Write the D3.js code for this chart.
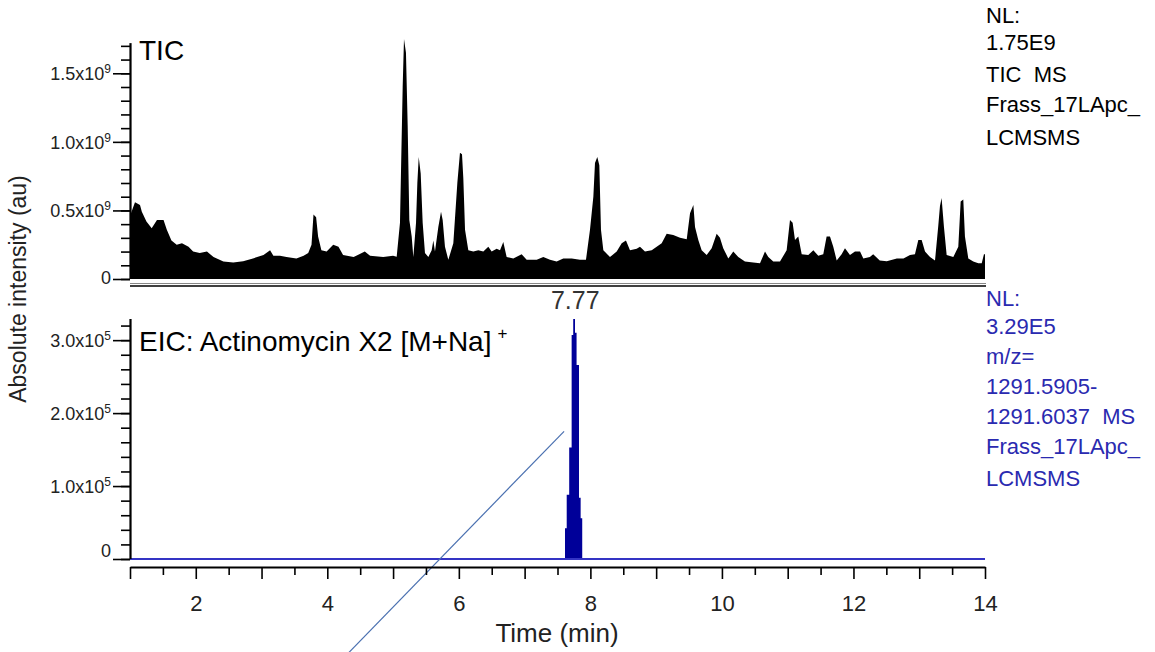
<!DOCTYPE html>
<html><head><meta charset="utf-8">
<script src="https://cdn.jsdelivr.net/npm/d3@7"></script>
<style>
body{margin:0;background:#fff}
svg text{font-family:"Liberation Sans",Arial,sans-serif;white-space:pre}
</style>
</head><body>
<svg id="chart" width="1155" height="652"></svg>
<script>
// ---------------- data ----------------
// TIC trace: retention time (min) and intensity (x1e9)
const ticTimes = [1.00,1.015,1.076,1.152,1.18,1.25,1.33,1.41,1.51,1.56,1.63,1.71,1.79,1.89,1.96,2.06,2.17,2.27,2.42,2.57,2.72,2.87,3.03,3.13,3.18,3.28,3.38,3.53,3.64,3.71,3.76,3.79,3.83,3.86,3.91,3.99,4.09,4.17,4.24,4.40,4.57,4.65,4.85,5.00,5.055,5.105,5.146,5.166,5.196,5.222,5.247,5.283,5.308,5.349,5.369,5.39,5.42,5.45,5.485,5.536,5.587,5.612,5.637,5.688,5.729,5.754,5.789,5.84,5.916,5.977,6.017,6.048,6.068,6.094,6.144,6.22,6.296,6.372,6.448,6.499,6.575,6.626,6.676,6.727,6.828,6.955,7.031,7.184,7.284,7.386,7.487,7.588,7.716,7.842,7.933,7.994,8.045,8.07,8.105,8.136,8.161,8.197,8.298,8.40,8.476,8.541,8.602,8.704,8.754,8.83,8.932,9.008,9.084,9.16,9.26,9.363,9.465,9.515,9.566,9.591,9.641,9.692,9.768,9.844,9.92,9.97,10.02,10.097,10.173,10.249,10.35,10.477,10.579,10.655,10.705,10.781,10.883,10.984,11.035,11.075,11.111,11.161,11.213,11.313,11.39,11.465,11.541,11.592,11.643,11.693,11.745,11.82,11.871,11.947,12.023,12.10,12.15,12.25,12.30,12.40,12.506,12.66,12.76,12.86,12.935,12.986,13.037,13.088,13.164,13.24,13.29,13.315,13.34,13.376,13.417,13.518,13.594,13.63,13.67,13.695,13.746,13.822,13.898,13.95,13.984,14.0];
const ticValues = [0.47,0.48,0.56,0.54,0.49,0.42,0.37,0.43,0.43,0.36,0.28,0.25,0.26,0.235,0.20,0.19,0.20,0.16,0.127,0.12,0.13,0.15,0.175,0.21,0.17,0.17,0.16,0.15,0.17,0.19,0.25,0.47,0.45,0.31,0.21,0.20,0.25,0.235,0.175,0.16,0.20,0.17,0.16,0.17,0.163,0.41,1.40,1.75,1.65,1.12,0.43,0.31,0.16,0.41,0.70,0.89,0.77,0.41,0.19,0.16,0.21,0.28,0.20,0.38,0.49,0.43,0.235,0.14,0.26,0.70,0.92,0.91,0.735,0.36,0.21,0.20,0.21,0.20,0.235,0.20,0.22,0.21,0.27,0.16,0.15,0.18,0.14,0.14,0.16,0.14,0.127,0.15,0.15,0.14,0.14,0.36,0.60,0.845,0.89,0.83,0.36,0.21,0.16,0.20,0.26,0.28,0.21,0.22,0.235,0.20,0.21,0.235,0.26,0.33,0.32,0.30,0.29,0.48,0.54,0.38,0.285,0.21,0.175,0.225,0.33,0.30,0.225,0.15,0.20,0.16,0.127,0.12,0.115,0.20,0.16,0.127,0.127,0.21,0.43,0.41,0.285,0.31,0.18,0.175,0.21,0.17,0.18,0.31,0.31,0.235,0.135,0.18,0.225,0.175,0.20,0.20,0.15,0.16,0.18,0.135,0.13,0.15,0.15,0.175,0.18,0.285,0.285,0.20,0.16,0.135,0.39,0.53,0.59,0.38,0.175,0.16,0.235,0.565,0.58,0.31,0.15,0.127,0.115,0.115,0.18,0.18];
// EIC trace (step profile): retention time (min) and intensity (x1e5)
const eicTimes  = [1.0,7.614,7.64,7.678,7.715,7.739,7.766,7.79,7.827,7.852,7.876,14.0];
const eicValues = [0,0.42,0.88,1.53,3.07,3.29,3.10,2.66,0.84,0.56,0,0];
// axis ticks / labels
const xMajorTicks = [1,2,3,4,5,6,7,8,9,10,11,12,13,14];
const xLabelTicks = [2,4,6,8,10,12,14];
const ticYMajor = [0,0.5,1.0,1.5];
const ticYMajorLabels = ["0","0.5x10","1.0x10","1.5x10"];
const ticExp = "9";
const eicYMajor = [0,1.0,2.0,3.0];
const eicYMajorLabels = ["0","1.0x10","2.0x10","3.0x10"];
const eicExp = "5";
const ticNL = 1.75, eicNL = 3.29;
const ticInfo = ["NL:","1.75E9","TIC  MS","Frass_17LApc_","LCMSMS"];
const eicInfo = ["NL:","3.29E5","m/z=","1291.5905-","1291.6037  MS","Frass_17LApc_","LCMSMS"];
const ticTitle = "TIC";
const eicTitle = "EIC: Actinomycin X2 [M+Na]";
const eicTitleSup = "+";
const peakLabelTime = 7.77, peakLabelText = "7.77";
const xTitle = "Time (min)";
const yTitle = "Absolute intensity (au)";
// stray annotation line (in EIC data units: time, x1e5)
const strayLine = [[7.6,1.75],[4.33,-1.28]];

// ---------------- drawing ----------------
const svg = d3.select("#chart");
const x = d3.scaleLinear().domain([1,14]).range([130,985]);
const yT = d3.scaleLinear().domain([0,ticNL]).range([279,39]);
const yE = d3.scaleLinear().domain([0,eicNL]).range([559,319]);

const tic = ticTimes.map((t,i)=>({t, v:ticValues[i]}));
const eic = eicTimes.map((t,i)=>({t, v:eicValues[i]}));

// TIC area
svg.append("path").datum(tic)
  .attr("d", d3.area().x(d=>x(d.t)).y0(yT(0)).y1(d=>yT(d.v)))
  .attr("fill","#000");

// separator double line under TIC
svg.append("line").attr("x1",x(1)).attr("x2",x(14)+1).attr("y1",283.5).attr("y2",283.5)
  .attr("stroke","#888").attr("stroke-width",1);
svg.append("line").attr("x1",x(1)).attr("x2",x(14)+1).attr("y1",286).attr("y2",286)
  .attr("stroke","#000").attr("stroke-width",1.6);

// EIC baseline and peak
svg.append("path").datum(eic)
  .attr("d", d3.area().curve(d3.curveStepAfter).x(d=>x(d.t)).y0(yE(0)).y1(d=>yE(d.v)))
  .attr("fill","#000099");
svg.append("path").datum(eic)
  .attr("d", d3.line().x(d=>x(d.t)).y(d=>yE(0)))
  .attr("stroke","#3434c4").attr("stroke-width",2.2).attr("fill","none");

// stray line
svg.append("path").datum(strayLine)
  .attr("d", d3.line().x(d=>x(d[0])).y(d=>yE(d[1])))
  .attr("stroke","#4a70b0").attr("stroke-width",1.2).attr("fill","none");

// y axes
function yAxis(scale, top, majors, labels, exp, zeroShift){
  const g = svg.append("g").attr("transform","translate(130,0)");
  const minor = d3.range(0, top+1e-9, majors[1]/5);
  g.append("g").call(d3.axisLeft(scale).tickValues(minor).tickSize(9).tickSizeOuter(0).tickFormat(""))
    .call(s=>s.select(".domain").remove())
    .call(s=>s.selectAll("line").attr("stroke","#000").attr("stroke-width",1.6));
  const gm = g.append("g").call(d3.axisLeft(scale).tickValues(majors).tickSize(17).tickSizeOuter(0).tickPadding(4).tickFormat(""));
  gm.selectAll("line").attr("stroke","#000").attr("stroke-width",1.6);
  gm.select(".domain").attr("stroke","#000").attr("stroke-width",2.2)
    .attr("d", `M0.5,${scale(0)}V${scale(top)}`);
  gm.selectAll(".tick text").each(function(d,i){
    const t = d3.select(this).attr("font-size",18).attr("fill","#222").attr("x",-19).attr("dy","0.36em");
    t.text(null);
    if(i===0) t.attr("y",-zeroShift);
    t.append("tspan").text(labels[i]);
    if(i>0) t.append("tspan").attr("font-size",12).attr("dy","-0.6em").text(exp);
  });
}
yAxis(yT, 1.72, ticYMajor, ticYMajorLabels, ticExp, 2);
yAxis(yE, 3.29, eicYMajor, eicYMajorLabels, eicExp, 9);

// x axis
const gx = svg.append("g").attr("transform","translate(0,567)");
gx.append("g").call(d3.axisBottom(x).tickValues(d3.range(1.5,14,1)).tickSize(8).tickSizeOuter(0).tickFormat(""))
  .call(s=>s.select(".domain").remove())
  .call(s=>s.selectAll("line").attr("stroke","#000").attr("stroke-width",1.6));
const gxm = gx.append("g").call(d3.axisBottom(x).tickValues(xMajorTicks).tickSize(12).tickSizeOuter(0)
  .tickPadding(16).tickFormat(d=>xLabelTicks.includes(d)?String(d):""));
gxm.selectAll("line").attr("stroke","#000").attr("stroke-width",1.6);
gxm.select(".domain").attr("stroke","#000").attr("stroke-width",2);
gxm.selectAll("text").attr("font-size",22).attr("fill","#222");

// titles
svg.append("text").attr("x",557).attr("y",642).attr("text-anchor","middle")
  .attr("font-size",26).attr("fill","#222").text(xTitle);
svg.append("text").attr("transform","translate(26,289) rotate(-90)").attr("text-anchor","middle")
  .attr("font-size",23).attr("fill","#222").text(yTitle);

svg.append("text").attr("x",139).attr("y",60).attr("font-size",28).attr("fill","#000").text(ticTitle);
const et = svg.append("text").attr("x",139).attr("y",351).attr("font-size",28).attr("fill","#000");
et.append("tspan").text(eicTitle);
et.append("tspan").attr("font-size",17).attr("dx",6).attr("dy",-12).text(eicTitleSup);

svg.append("text").attr("x",x(peakLabelTime)).attr("y",309).attr("text-anchor","middle")
  .attr("font-size",25).attr("fill","#333").text(peakLabelText);

// info blocks
const ticInfoY = [23,50,82,112,145];
ticInfo.forEach((s,i)=>svg.append("text").attr("x",986).attr("y",ticInfoY[i]).attr("font-size",22).attr("fill","#000").text(s));
const eicInfoY = [306,334,364,394,424,454,486];
eicInfo.forEach((s,i)=>svg.append("text").attr("x",986).attr("y",eicInfoY[i]).attr("font-size",22).attr("fill","#2a2ab0").text(s));
</script>
</body></html>
